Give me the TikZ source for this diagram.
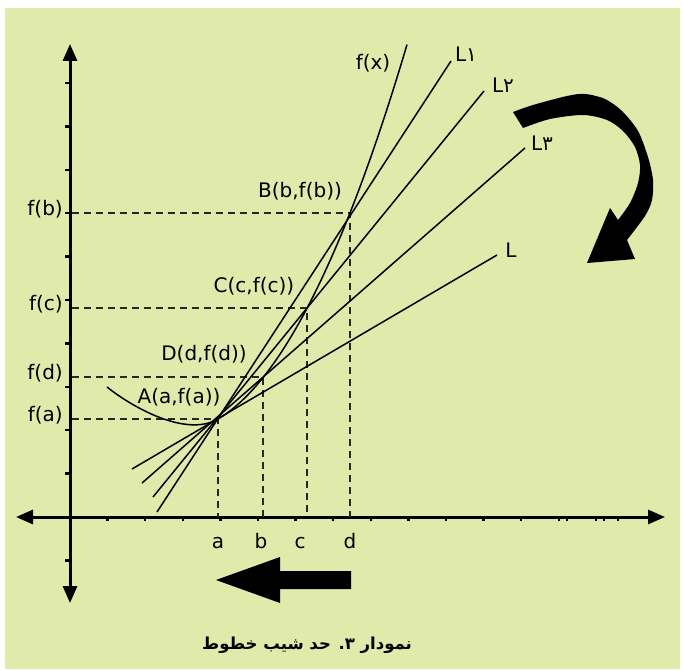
\documentclass[tikz,border=0pt]{standalone}
\usepackage{fontspec}
\setmainfont{DejaVu Sans}
\newfontfamily\arabicfont[Script=Arabic]{DejaVu Sans}
\TeXXeTstate=1
\usetikzlibrary{arrows.meta}
\definecolor{bggreen}{RGB}{224,234,171}
\tikzset{
  lbl/.style={inner sep=0pt,font=\fontsize{20}{24}\selectfont},
  axisline/.style={line width=3pt,{Triangle[length=17pt,width=14pt]}-{Triangle[length=17pt,width=14pt]}},
  guide/.style={dash pattern=on 7pt off 5pt,line width=1.3pt,black!85},
  thinline/.style={line width=1.5pt},
  tickmark/.style={line width=2.5pt},
}
\begin{document}
\begin{tikzpicture}[x=1pt,y=-1pt]
\useasboundingbox (0,0) rectangle (683,671);
\fill[white] (0,0) rectangle (683,671);
\fill[bggreen] (5,8) rectangle (680,669);

% axes
\coordinate (O) at (70,517);
\coordinate (xl) at (16,517);
\coordinate (xr) at (665,517);
\coordinate (yb) at (70,603);
\coordinate (yt) at (70,44);
\foreach \k in {1,...,13} \draw[tickmark] (70+37.6*\k,517) -- ++(0,4);
\foreach \x in {567,596,604,618} \draw[tickmark] (\x,517) -- ++(0,4);
\foreach \k in {-1,1,2,...,10} \draw[tickmark] (65,517-43.4*\k) -- ++(4,0);
\draw[axisline] (xl) -- (xr);
\draw[axisline] (yb) -- (yt);

% points
\coordinate (A) at (218,419);
\coordinate (B) at (350,213);
\coordinate (C) at (307,308);
\coordinate (D) at (263,377);

% guides
\draw[guide] (72,213) -- (B) -- (B |- O);
\draw[guide] (72,308) -- (C) -- (C |- O);
\draw[guide] (72,377) -- (D) -- (D |- O);
\draw[guide] (72,419) -- (A) -- (A |- O);

% function curve
\coordinate (fs) at (107,387);
\coordinate (fe) at (407,44.6);
\draw[thinline] (fs) .. controls (132,407) and (186,437.8) .. (A)
  .. controls (281,381.9) and (344,257.1) .. (fe);

% lines through A
\coordinate (l1s) at (157,512); \coordinate (l1e) at (451,61);
\coordinate (l2s) at (153,497); \coordinate (l2e) at (484,91);
\coordinate (l3s) at (142,483); \coordinate (l3e) at (525,148);
\coordinate (ls) at (132,469);  \coordinate (le) at (497,255);
\draw[thinline] (l1s) -- (l1e);
\draw[thinline] (l2s) -- (l2e);
\draw[thinline] (l3s) -- (l3e);
\draw[thinline] (ls) -- (le);

% labels
\node[lbl] (tfx) at (373,63) {f(x)};
\node[lbl] (tl1) at (466,54) {L{\arabicfont ۱}};
\node[lbl] (tl2) at (503,85) {L{\arabicfont ۲}};
\node[lbl] (tl3) at (542,143) {L{\arabicfont ۳}};
\node[lbl] (tl) at (511,250) {L};
\node[lbl] (tB) at (300,191) {B(b,f(b))};
\node[lbl] (tC) at (254,286) {C(c,f(c))};
\node[lbl] (tD) at (204,354) {D(d,f(d))};
\node[lbl] (tA) at (179,397) {A(a,f(a))};
\node[lbl,anchor=east] (tfb) at (63,209) {f(b)};
\node[lbl,anchor=east] (tfc) at (63,304) {f(c)};
\node[lbl,anchor=east] (tfd) at (63,373) {f(d)};
\node[lbl,anchor=east] (tfa) at (63,415) {f(a)};
\node[lbl,anchor=base] (ta) at (218,548) {a};
\node[lbl,anchor=base] (tb) at (261,548) {b};
\node[lbl,anchor=base] (tc) at (300,548) {c};
\node[lbl,anchor=base] (td) at (350,548) {d};

% big curved arrow
\fill[black] plot[smooth] coordinates {(513,112) (533,105) (567,96) (585,94) (605,99) (622,111) (638,131) (648,157) (653,180) (652,200) (645,216) (627,240)}
  -- (635,259) -- (587,263) -- (610,208) --
  plot[smooth] coordinates {(618,220) (630,203) (638,183) (640,165) (635,147) (623,131) (607,120) (583,115) (550,119) (523,128)} -- cycle;

% left arrow
\fill[black] (351,571) -- (280,571) -- (280,557) -- (216,580) -- (280,603) -- (280,589) -- (351,589) -- cycle;

% caption
\node[inner sep=0pt,font=\arabicfont\bfseries\fontsize{16.5}{20}\selectfont] (cap) at (307,645) {\beginR نمودار ۳. حد شیب خطوط\endR};
\end{tikzpicture}
\end{document}
